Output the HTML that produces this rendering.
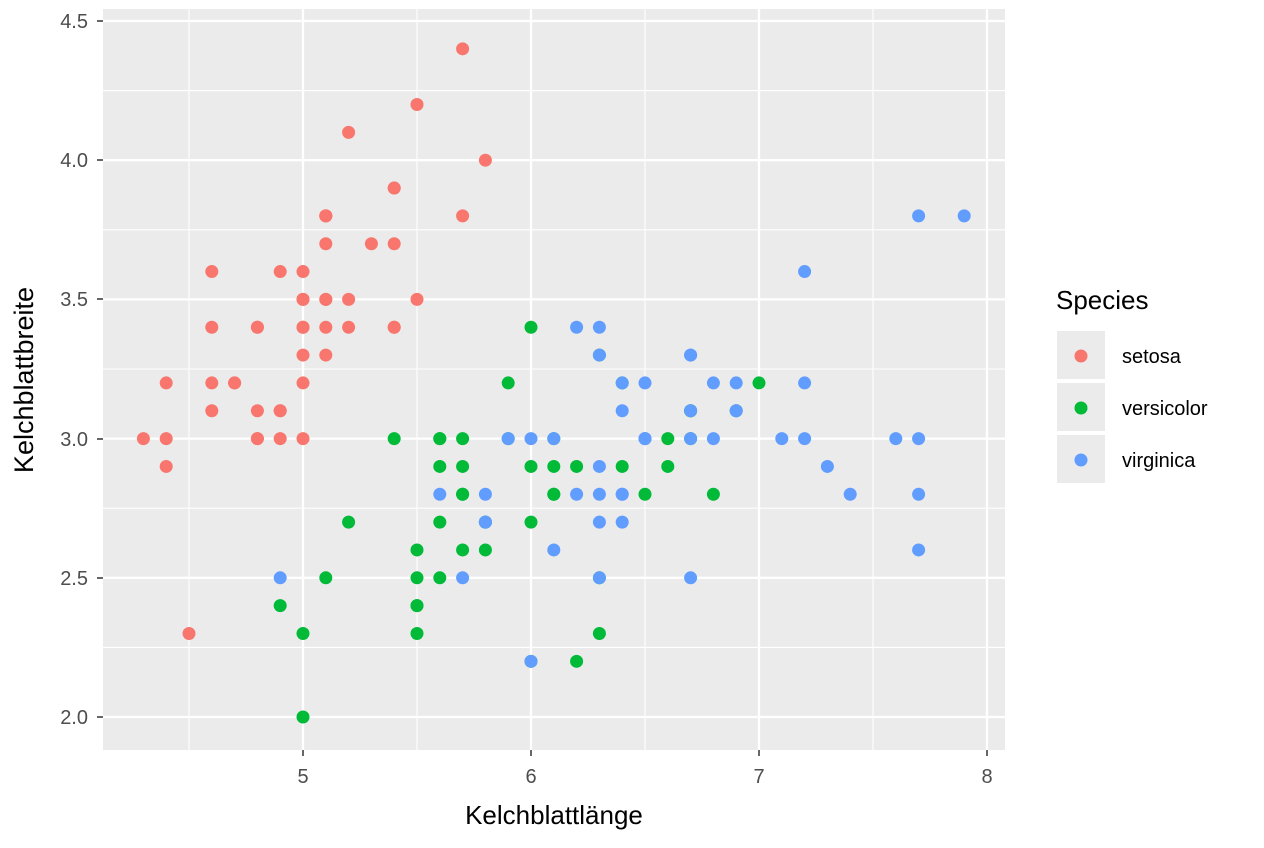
<!DOCTYPE html>
<html><head><meta charset="utf-8"><style>
html,body{margin:0;padding:0;background:#fff;}
svg{display:block;font-family:"Liberation Sans",Arial,sans-serif;}
</style></head><body>
<svg id="s" width="1264" height="848" viewBox="0 0 1264 848" xmlns="http://www.w3.org/2000/svg">
<rect x="103" y="9" width="902" height="741" fill="#ebebeb"/>
<g id="grid"></g>
<g id="pts"></g>
<g fill="#4d4d4d" font-size="20" text-anchor="end">
<text x="88" y="28">4.5</text><text x="88" y="167">4.0</text><text x="88" y="306">3.5</text>
<text x="88" y="446">3.0</text><text x="88" y="585">2.5</text><text x="88" y="724">2.0</text>
</g>
<g fill="#4d4d4d" font-size="20" text-anchor="middle">
<text x="303" y="783">5</text><text x="531" y="783">6</text><text x="759" y="783">7</text><text x="987" y="783">8</text>
</g>
<g stroke="#333" stroke-width="1.5">
<line x1="97" y1="21" x2="103" y2="21"/><line x1="97" y1="160" x2="103" y2="160"/><line x1="97" y1="299" x2="103" y2="299"/>
<line x1="97" y1="439" x2="103" y2="439"/><line x1="97" y1="578" x2="103" y2="578"/><line x1="97" y1="717" x2="103" y2="717"/>
<line x1="303" y1="750" x2="303" y2="756"/><line x1="531" y1="750" x2="531" y2="756"/><line x1="759" y1="750" x2="759" y2="756"/><line x1="987" y1="750" x2="987" y2="756"/>
</g>
<text x="554" y="824" font-size="26" text-anchor="middle" fill="#000">Kelchblattlänge</text>
<text transform="translate(33,380) rotate(-90)" font-size="27" text-anchor="middle" fill="#000">Kelchblattbreite</text>
<text x="1056" y="309" font-size="26" fill="#000">Species</text>
<rect x="1057" y="331" width="48" height="48" fill="#ebebeb"/>
<rect x="1057" y="383" width="48" height="48" fill="#ebebeb"/>
<rect x="1057" y="435" width="48" height="48" fill="#ebebeb"/>
<circle cx="1081" cy="356" r="6.5" fill="#F8766D"/>
<circle cx="1081" cy="408" r="6.5" fill="#00BA38"/>
<circle cx="1081" cy="460" r="6.5" fill="#619CFF"/>
<g font-size="20" fill="#000">
<text x="1122" y="363">setosa</text><text x="1122" y="415">versicolor</text><text x="1122" y="467">virginica</text>
</g>
<script>
var NS="http://www.w3.org/2000/svg";
function X(v){return 303+(v-5)*228;}
function Y(v){return 717-(v-2)*278.4;}
var g=document.getElementById("grid");
function ln(x1,y1,x2,y2,w){var l=document.createElementNS(NS,"line");l.setAttribute("x1",x1);l.setAttribute("y1",y1);l.setAttribute("x2",x2);l.setAttribute("y2",y2);l.setAttribute("stroke","#fff");l.setAttribute("stroke-width",w);g.appendChild(l);}
[4.5,5.5,6.5,7.5].forEach(function(v){ln(X(v),9,X(v),750,1.1);});
[2.25,2.75,3.25,3.75,4.25].forEach(function(v){ln(103,Y(v),1005,Y(v),1.1);});
[5,6,7,8].forEach(function(v){ln(X(v),9,X(v),750,2.3);});
[2,2.5,3,3.5,4,4.5].forEach(function(v){ln(103,Y(v),1005,Y(v),2.3);});
var se="5.1 3.5,4.9 3.0,4.7 3.2,4.6 3.1,5.0 3.6,5.4 3.9,4.6 3.4,5.0 3.4,4.4 2.9,4.9 3.1,5.4 3.7,4.8 3.4,4.8 3.0,4.3 3.0,5.8 4.0,5.7 4.4,5.4 3.9,5.1 3.5,5.7 3.8,5.1 3.8,5.4 3.4,5.1 3.7,4.6 3.6,5.1 3.3,4.8 3.4,5.0 3.0,5.0 3.4,5.2 3.5,5.2 3.4,4.7 3.2,4.8 3.1,5.4 3.4,5.2 4.1,5.5 4.2,4.9 3.1,5.0 3.2,5.5 3.5,4.9 3.6,4.4 3.0,5.1 3.4,5.0 3.5,4.5 2.3,4.4 3.2,5.0 3.5,5.1 3.8,4.8 3.0,5.1 3.8,4.6 3.2,5.3 3.7,5.0 3.3";
var ve="7.0 3.2,6.4 3.2,6.9 3.1,5.5 2.3,6.5 2.8,5.7 2.8,6.3 3.3,4.9 2.4,6.6 2.9,5.2 2.7,5.0 2.0,5.9 3.0,6.0 2.2,6.1 2.9,5.6 2.9,6.7 3.1,5.6 3.0,5.8 2.7,6.2 2.2,5.6 2.5,5.9 3.2,6.1 2.8,6.3 2.5,6.1 2.8,6.4 2.9,6.6 3.0,6.8 2.8,6.7 3.0,6.0 2.9,5.7 2.6,5.5 2.4,5.5 2.4,5.8 2.7,6.0 2.7,5.4 3.0,6.0 3.4,6.7 3.1,6.3 2.3,5.6 3.0,5.5 2.5,5.5 2.6,6.1 3.0,5.8 2.6,5.0 2.3,5.6 2.7,5.7 3.0,5.7 2.9,6.2 2.9,5.1 2.5,5.7 2.8";
var vi="6.3 3.3,5.8 2.7,7.1 3.0,6.3 2.9,6.5 3.0,7.6 3.0,4.9 2.5,7.3 2.9,6.7 2.5,7.2 3.6,6.5 3.2,6.4 2.7,6.8 3.0,5.7 2.5,5.8 2.8,6.4 3.2,6.5 3.0,7.7 3.8,7.7 2.6,6.0 2.2,6.9 3.2,5.6 2.8,7.7 2.8,6.3 2.7,6.7 3.3,7.2 3.2,6.2 2.8,6.1 3.0,6.4 2.8,7.2 3.0,7.4 2.8,7.9 3.8,6.4 2.8,6.3 2.8,6.1 2.6,7.7 3.0,6.3 3.4,6.4 3.1,6.0 3.0,6.9 3.1,6.7 3.1,6.9 3.1,5.8 2.7,6.8 3.2,6.7 3.3,6.7 3.0,6.3 2.5,6.5 3.0,6.2 3.4,5.9 3.0";
var p=document.getElementById("pts");
[[se,"#F8766D"],[ve,"#00BA38"],[vi,"#619CFF"]].forEach(function(a){
a[0].split(",").forEach(function(s){var q=s.split(" ");var c=document.createElementNS(NS,"circle");
c.setAttribute("cx",X(+q[0]));c.setAttribute("cy",Y(+q[1]));c.setAttribute("r",6.5);c.setAttribute("fill",a[1]);p.appendChild(c);});});
</script>
</svg>
</body></html>
